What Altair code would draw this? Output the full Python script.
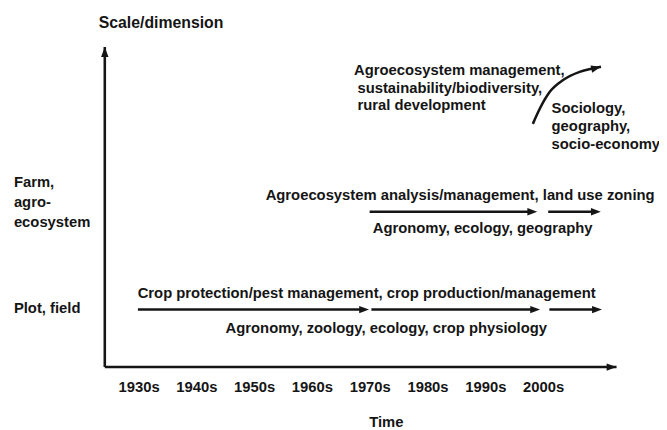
import altair as alt
import pandas as pd

# ---- data ----
decades = ["1930s", "1940s", "1950s", "1960s", "1970s", "1980s", "1990s", "2000s"]
decade_years = [1930, 1940, 1950, 1960, 1970, 1980, 1990, 2000]

# scale levels on the vertical axis
plot_level = 1.0
farm_level = 2.0

# straight arrows (start year, tip year)
plot_starts = [1929.8, 1970.2, 2001.0]
plot_ends = [1969.8, 1999.4, 2010.1]
farm_starts = [1969.9, 2000.8]
farm_ends = [1998.9, 2009.9]

# curved arrow towards the landscape / regional level
curve_years = [1998.14, 1999.40, 2001.11, 2003.38, 2006.24, 2008.51, 2009.93]
curve_levels = [2.899, 3.061, 3.229, 3.347, 3.431, 3.465, 3.482]

# axes extents
axis_origin_year = 1924.07
axis_origin_level = 0.412
axis_end_year = 2012.62
axis_top_level = 3.684

# texts (left aligned)
left_texts = [
    "Farm,", "agro-", "ecosystem", "Plot, field",
    "Crop protection/pest management, crop production/management",
    "Agronomy, zoology, ecology, crop physiology",
    "Agroecosystem analysis/management, land use zoning",
    "Agronomy, ecology, geography",
    "Agroecosystem management,", "sustainability/biodiversity,", "rural development",
    "Sociology,", "geography,", "socio-economy",
]
left_years = [1908.34, 1908.34, 1908.34, 1908.34,
              1929.76, 1944.97, 1951.9, 1970.44,
              1967.2, 1967.78, 1967.78,
              2001.38, 2001.38, 2001.38]
left_levels = [2.303, 2.101, 1.899, 1.014,
               1.172, 0.812, 2.169, 1.832,
               3.446, 3.270, 3.093,
               3.058, 2.876, 2.694]

title_text = "Scale/dimension"
title_year, title_level = 1933.81, 3.929
xtitle_text = "Time"
xtitle_year, xtitle_level = 1972.79, -0.149
tick_level = 0.204

# ---- scales ----
X = alt.Scale(domain=[1907.32, 2019.97], nice=False, zero=False)
Y = alt.Scale(domain=[-0.2051, 4.0576], nice=False, zero=False)
INK = "#151515"
FONT = "Liberation Sans"
HEAD = "M0,0 L-2,-0.75 L-2,0.75 Z"

# ---- tables ----
axes_df = pd.DataFrame({
    "x": [axis_origin_year, axis_origin_year],
    "x2": [axis_end_year, axis_origin_year],
    "y": [axis_origin_level, axis_origin_level],
    "y2": [axis_origin_level, axis_top_level],
})

shaft_df = pd.DataFrame({
    "x": plot_starts + farm_starts,
    "x2": plot_ends + farm_ends,
    "y": [plot_level] * len(plot_starts) + [farm_level] * len(farm_starts),
})

heads_df = pd.DataFrame({
    "x": plot_ends + farm_ends + [axis_end_year, axis_origin_year, curve_years[-1]],
    "y": [plot_level] * len(plot_ends) + [farm_level] * len(farm_ends)
         + [axis_origin_level, axis_top_level, curve_levels[-1]],
    "ang": [0] * (len(plot_ends) + len(farm_ends)) + [0, 270, 347],
})

curve_df = pd.DataFrame({"x": curve_years, "y": curve_levels, "o": list(range(len(curve_years)))})

left_df = pd.DataFrame({"t": left_texts, "x": left_years, "y": left_levels})
ticks_df = pd.DataFrame({"t": decades, "x": decade_years, "y": [tick_level] * len(decades)})
titles_df = pd.DataFrame({"t": [title_text, xtitle_text],
                          "x": [title_year, xtitle_year],
                          "y": [title_level, xtitle_level],
                          "fs": [16, 15]})

# ---- layers ----
axes = alt.Chart(axes_df).mark_rule(color=INK, strokeWidth=2.6).encode(
    x=alt.X("x:Q", scale=X, axis=None), x2="x2:Q",
    y=alt.Y("y:Q", scale=Y, axis=None), y2="y2:Q",
)

shafts = alt.Chart(shaft_df).mark_rule(color=INK, strokeWidth=2.6, x2Offset=-5).encode(
    x=alt.X("x:Q", scale=X, axis=None), x2="x2:Q",
    y=alt.Y("y:Q", scale=Y, axis=None),
)

heads = alt.Chart(heads_df).mark_point(
    shape=HEAD, filled=True, color=INK, size=100, opacity=1, strokeWidth=0
).encode(
    x=alt.X("x:Q", scale=X, axis=None),
    y=alt.Y("y:Q", scale=Y, axis=None),
    angle=alt.Angle("ang:Q", scale=None),
)

curve = alt.Chart(curve_df).mark_line(color=INK, strokeWidth=2.6, interpolate="monotone").encode(
    x=alt.X("x:Q", scale=X, axis=None),
    y=alt.Y("y:Q", scale=Y, axis=None),
    order="o:Q",
)

left_text = alt.Chart(left_df).mark_text(
    align="left", baseline="middle", font=FONT, fontWeight="bold", fontSize=15, color=INK
).encode(
    x=alt.X("x:Q", scale=X, axis=None),
    y=alt.Y("y:Q", scale=Y, axis=None),
    text="t:N",
)

tick_text = alt.Chart(ticks_df).mark_text(
    align="center", baseline="middle", font=FONT, fontWeight="bold", fontSize=15, color=INK
).encode(
    x=alt.X("x:Q", scale=X, axis=None),
    y=alt.Y("y:Q", scale=Y, axis=None),
    text="t:N",
)

title_text_layer = alt.Chart(titles_df).mark_text(
    align="center", baseline="middle", font=FONT, fontWeight="bold", color=INK
).encode(
    x=alt.X("x:Q", scale=X, axis=None),
    y=alt.Y("y:Q", scale=Y, axis=None),
    text="t:N",
    size=alt.Size("fs:Q", scale=None, legend=None),
)

chart = alt.layer(
    axes, shafts, curve, heads, left_text, tick_text, title_text_layer
).properties(
    width=659, height=422, padding=0,
    autosize=alt.AutoSizeParams(type="none"),
    background="white",
).configure_view(stroke=None)

chart.save("out.html", embed_options={"renderer": "svg", "actions": False})
